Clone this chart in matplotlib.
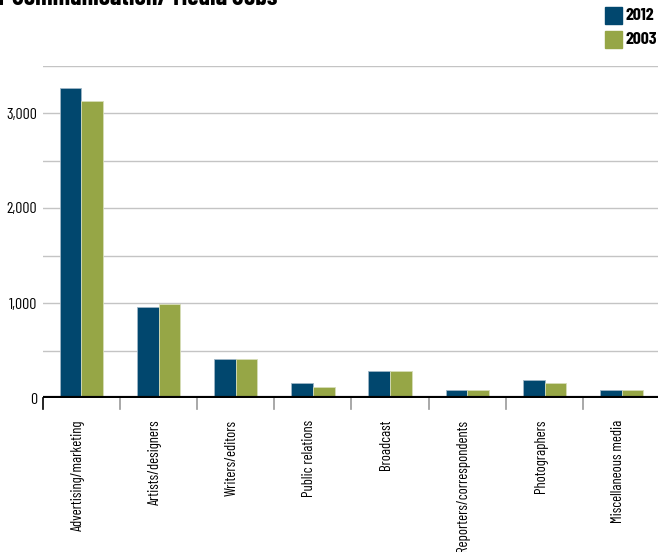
import matplotlib
matplotlib.use("Agg")
import matplotlib.pyplot as plt
import numpy as np
from matplotlib import font_manager

categories = ["Advertising/marketing", "Artists/designers", "Writers/editors",
              "Public relations", "Broadcast", "Reporters/correspondents",
              "Photographers", "Miscellaneous media"]
jobs_2012 = [3260, 955, 410, 155, 284, 87, 189, 87]
jobs_2003 = [3130, 990, 410, 119, 284, 87, 155, 87]
series_labels = ["2012", "2003"]
yticks = [0, 1000, 2000, 3000]
ytick_labels = ["0", "1,000", "2,000", "3,000"]
title = "Other Communication/ Media Jobs"

avail = {f.name for f in font_manager.fontManager.ttflist}
pref = [f for f in ["Barlow Condensed", "Roboto Condensed", "Archivo Narrow"] if f in avail]
plt.rcParams['font.family'] = pref + ['DejaVu Sans']

W, H = 658, 552
fig = plt.figure(figsize=(W/100, H/100), dpi=100)
renderer = fig.canvas.get_renderer()

def fit_size(txt, target_px, weight='normal', base=10):
    t = fig.text(0, 0, txt, fontsize=base, fontweight=weight)
    w = t.get_window_extent(renderer).width
    t.remove()
    return base * target_px / w

left = 42.7 / W
right = 660.3 / W
bottom = (H - 398) / H
top = (H - 65.5) / H
ax = fig.add_axes([left, bottom, right - left, top - bottom])

c2012 = "#01476e"
c2003 = "#96a646"
x = np.arange(len(categories))
bw = 0.28
ax.bar(x - bw/2, jobs_2012, bw, color=c2012, edgecolor="#9fb6c6", linewidth=0.6, zorder=3)
ax.bar(x + bw/2, jobs_2003, bw, color=c2003, edgecolor="#d6ddb8", linewidth=0.6, zorder=3)

ax.set_xlim(-0.5, len(categories) - 0.5)
ax.set_ylim(0, 3500)
for v in np.arange(500, 3501, 500):
    ax.axhline(v, color="#c4c4c4", linewidth=1, zorder=1)
ax.axhline(0, color="black", linewidth=3, zorder=4)

for s in ax.spines.values():
    s.set_visible(False)

tick_fs = fit_size("3,000", 31)
ax.set_yticks(yticks)
ax.set_yticklabels(ytick_labels, fontsize=tick_fs)
ax.tick_params(axis='y', length=0, pad=4)
ax.set_xticks([])

# category separators and labels
lab_fs = fit_size("Advertising/marketing", 112)
for i in range(len(categories)):
    xb = i - 0.5
    ax.plot([xb, xb], [0, -120], color="black" if i == 0 else "#999999",
            linewidth=1.2, clip_on=False, zorder=2)
    ax.text(i - 0.05, -230, categories[i], rotation=90, ha='center', va='top',
            fontsize=lab_fs)

# title (clipped at top)
title_fs = fit_size("Communication/ Media Jobs", 265, weight='bold')
fig.text(277/W, 1 - 5/H, title, ha='right', va='baseline', fontsize=title_fs,
         fontweight='bold')

# legend
leg_fs = fit_size("2012", 29, weight='bold')
for j, (lab, col) in enumerate(zip(series_labels, [c2012, c2003])):
    y0 = 7 + j * 24
    fig.patches.append(plt.Rectangle((605/W, 1 - (y0 + 17)/H), 17/W, 17/H,
                                     transform=fig.transFigure, color=col))
    fig.text(626/W, 1 - (y0 + 8.5)/H, lab, ha='left', va='center',
             fontsize=leg_fs, fontweight='bold')

fig.savefig("out.png", dpi=100)
